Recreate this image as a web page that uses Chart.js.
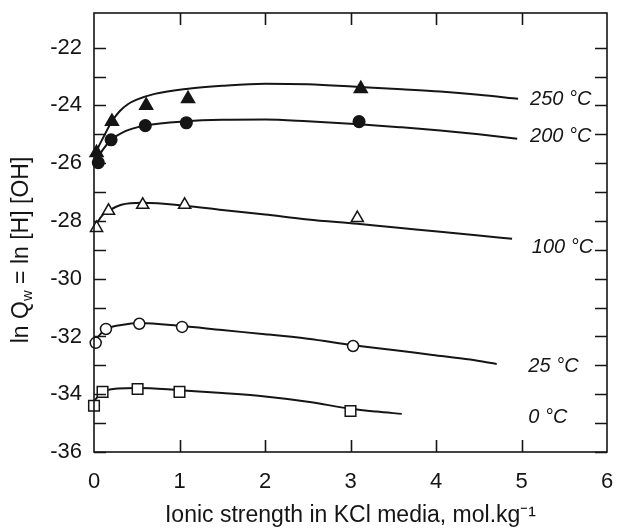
<!DOCTYPE html>
<html>
<head>
<meta charset="utf-8">
<script src="https://cdn.jsdelivr.net/npm/chart.js@4.4.1/dist/chart.umd.min.js"></script>
<style>
  html, body { margin: 0; padding: 0; background: #fff; }
</style>
</head>
<body>
<canvas id="qw-chart" width="617" height="529"></canvas>
<script>
// measured points (ionic strength, ln Qw)
const pts250X = [0.03, 0.21, 0.61, 1.1, 3.12];
const pts250Y = [-25.64, -24.56, -24.0, -23.77, -23.42];
const pts200X = [0.05, 0.2, 0.6, 1.08, 3.1];
const pts200Y = [-25.98, -25.19, -24.7, -24.6, -24.56];
const pts100X = [0.03, 0.17, 0.57, 1.06, 3.08];
const pts100Y = [-28.24, -27.65, -27.44, -27.44, -27.9];
const pts25X = [0.02, 0.14, 0.53, 1.03, 3.03];
const pts25Y = [-32.22, -31.74, -31.56, -31.67, -32.33];
const pts0X = [0.0, 0.1, 0.51, 1.0, 3.0];
const pts0Y = [-34.4, -33.92, -33.82, -33.92, -34.58];

// fitted curves
const fit250X = [0.01, 0.05, 0.11, 0.21, 0.3, 0.4, 0.5, 0.71, 1.1, 1.5, 2.0, 2.5, 3.1, 3.6, 4.05, 4.5, 4.96];
const fit250Y = [-25.75, -25.45, -25.1, -24.55, -24.2, -23.95, -23.8, -23.6, -23.42, -23.32, -23.25, -23.27, -23.36, -23.44, -23.52, -23.63, -23.77];
const fit200X = [0.02, 0.05, 0.1, 0.2, 0.36, 0.6, 1.08, 1.5, 2.0, 2.5, 3.1, 3.6, 4.05, 4.5, 4.95];
const fit200Y = [-26.0, -25.8, -25.55, -25.2, -24.9, -24.7, -24.55, -24.5, -24.49, -24.55, -24.65, -24.76, -24.87, -25.0, -25.15];
const fit100X = [0.01, 0.05, 0.1, 0.17, 0.32, 0.57, 1.06, 1.5, 2.0, 2.5, 3.08, 3.5, 4.05, 4.5, 4.89];
const fit100Y = [-28.2, -28.0, -27.8, -27.65, -27.44, -27.37, -27.47, -27.62, -27.78, -27.95, -28.1, -28.22, -28.37, -28.5, -28.62];
const fit25X = [0.01, 0.08, 0.14, 0.32, 0.53, 1.03, 1.5, 2.0, 2.5, 3.03, 3.5, 3.96, 4.4, 4.71];
const fit25Y = [-32.15, -31.9, -31.74, -31.6, -31.53, -31.64, -31.78, -31.92, -32.08, -32.3, -32.47, -32.64, -32.8, -32.95];
const fit0X = [0.01, 0.1, 0.28, 0.51, 1.0, 1.5, 2.0, 2.5, 3.0, 3.3, 3.6];
const fit0Y = [-34.2, -33.92, -33.8, -33.78, -33.86, -33.96, -34.08, -34.26, -34.5, -34.6, -34.68];

// curve labels
const curveLabels = ['250 °C', '200 °C', '100 °C', '25 °C', '0 °C'];
const curveLabelX = [5.1, 5.1, 5.12, 5.08, 5.08];
const curveLabelY = [-23.8, -25.08, -28.9, -33.05, -34.82];

// axes
const xTickLabels = [0, 1, 2, 3, 4, 5, 6];
const xTickMarks = [1, 2, 3, 4, 5];
const yTickLabels = [-36, -34, -32, -30, -28, -26, -24, -22];
const yTickMarks = [-36, -35, -34, -33, -32, -31, -30, -29, -28, -27, -26, -25, -24, -23, -22];

const INK = '#151515';
const FONT = "'Liberation Sans', Arial, Helvetica, sans-serif";
Chart.defaults.font.family = FONT;
Chart.defaults.color = INK;

function toXY(xs, ys) {
  return xs.map((v, i) => ({ x: v, y: ys[i] }));
}

function markerSet(xs, ys, style, radius, filled) {
  return {
    type: 'scatter',
    data: toXY(xs, ys),
    pointStyle: style,
    pointRadius: radius,
    pointHoverRadius: radius,
    pointBackgroundColor: filled ? INK : '#ffffff',
    pointBorderColor: INK,
    pointBorderWidth: 1.5,
    showLine: false,
    clip: false,
    order: 0,
  };
}

function curveSet(xs, ys) {
  return {
    type: 'line',
    data: toXY(xs, ys),
    borderColor: INK,
    borderWidth: 2,
    pointRadius: 0,
    fill: false,
    cubicInterpolationMode: 'monotone',
    clip: false,
    order: 1,
  };
}

// frame, inward ticks, curve labels and the y title (with subscript w)
const decorPlugin = {
  id: 'decor',
  afterDatasetsDraw(chart) {
    const { ctx, chartArea: a, scales: { x, y } } = chart;
    ctx.save();
    ctx.strokeStyle = INK;
    ctx.lineWidth = 1.6;
    ctx.strokeRect(a.left, a.top, a.right - a.left, a.bottom - a.top);
    ctx.beginPath();
    yTickMarks.forEach(v => {
      const py = Math.round(y.getPixelForValue(v)) + 0.5;
      ctx.moveTo(a.left, py); ctx.lineTo(a.left + 12, py);
      ctx.moveTo(a.right, py); ctx.lineTo(a.right - 12, py);
    });
    xTickMarks.forEach(v => {
      const px = Math.round(x.getPixelForValue(v)) + 0.5;
      ctx.moveTo(px, a.bottom); ctx.lineTo(px, a.bottom - 12);
      ctx.moveTo(px, a.top); ctx.lineTo(px, a.top + 12);
    });
    ctx.stroke();

    ctx.fillStyle = INK;
    ctx.font = 'italic 20px ' + FONT;
    ctx.textAlign = 'left';
    ctx.textBaseline = 'middle';
    curveLabels.forEach((t, i) => {
      ctx.fillText(t, x.getPixelForValue(curveLabelX[i]), y.getPixelForValue(curveLabelY[i]));
    });

    // y axis title
    ctx.translate(22, 250);
    ctx.rotate(-Math.PI / 2);
    const big = '23px ' + FONT, small = '15px ' + FONT;
    const p1 = 'ln Q', sub = 'w', p2 = ' = ln [H] [OH]';
    ctx.font = big;
    const w1 = ctx.measureText(p1).width, w2 = ctx.measureText(p2).width;
    ctx.font = small;
    const ws = ctx.measureText(sub).width;
    let cx = -(w1 + ws + w2) / 2;
    ctx.font = big;
    ctx.fillText(p1, cx, 0);
    cx += w1;
    ctx.font = small;
    ctx.fillText(sub, cx, 6);
    cx += ws;
    ctx.font = big;
    ctx.fillText(p2, cx, 0);
    ctx.restore();
  }
};

const ctx = document.getElementById('qw-chart').getContext('2d');
new Chart(ctx, {
  type: 'scatter',
  data: {
    datasets: [
      markerSet(pts250X, pts250Y, 'triangle', 7.5, true),
      markerSet(pts200X, pts200Y, 'circle', 5.8, true),
      markerSet(pts100X, pts100Y, 'triangle', 7, false),
      markerSet(pts25X, pts25Y, 'circle', 5.5, false),
      markerSet(pts0X, pts0Y, 'rect', 7.5, false),
      curveSet(fit250X, fit250Y),
      curveSet(fit200X, fit200Y),
      curveSet(fit100X, fit100Y),
      curveSet(fit25X, fit25Y),
      curveSet(fit0X, fit0Y),
    ],
  },
  options: {
    responsive: false,
    animation: false,
    devicePixelRatio: 1,
    layout: { padding: { top: 13, right: 10, left: 0, bottom: 0 } },
    plugins: { legend: { display: false }, tooltip: { enabled: false } },
    scales: {
      x: {
        type: 'linear',
        min: 0,
        max: 6,
        grid: { display: false, drawTicks: false },
        border: { display: false },
        afterBuildTicks: s => { s.ticks = xTickLabels.map(v => ({ value: v })); },
        afterFit: s => { s.height = 77; s.paddingLeft = 0; s.paddingRight = 0; },
        ticks: { padding: 17, font: { size: 22 }, color: INK },
        title: {
          display: true,
          text: 'Ionic strength in KCl media, mol.kg⁻¹',
          font: { size: 23 },
          color: INK,
          padding: { top: 0, bottom: 0 },
        },
      },
      y: {
        type: 'linear',
        min: -36,
        max: -20.8,
        grid: { display: false, drawTicks: false },
        border: { display: false },
        afterBuildTicks: s => { s.ticks = yTickLabels.map(v => ({ value: v })); },
        afterFit: s => { s.width = 94; s.paddingTop = 0; s.paddingBottom = 0; },
        ticks: { padding: 12, font: { size: 22 }, color: INK },
      },
    },
  },
  plugins: [decorPlugin],
});
</script>
</body>
</html>
